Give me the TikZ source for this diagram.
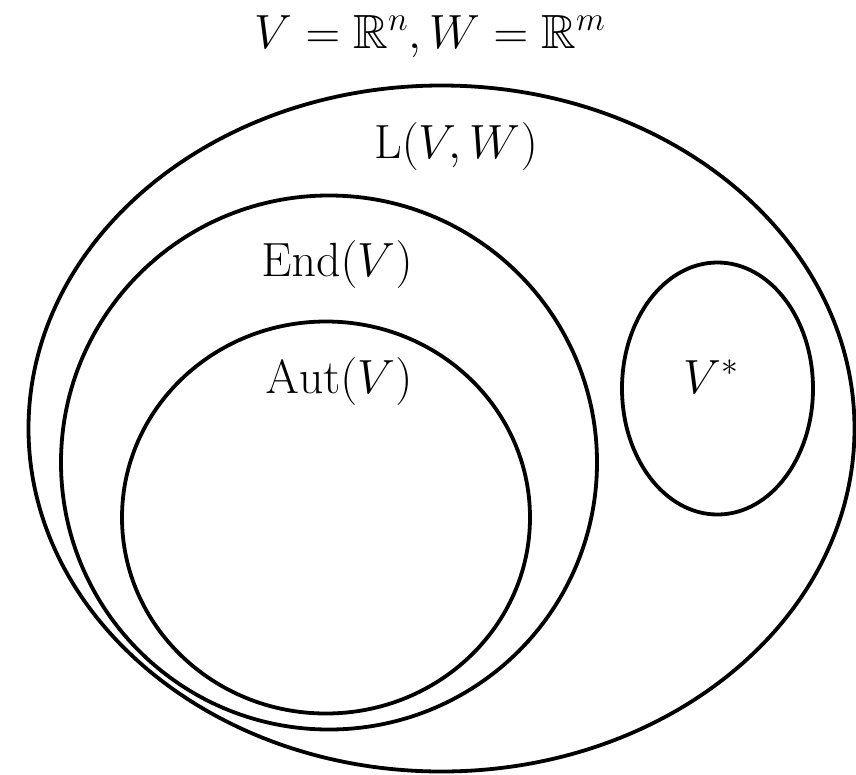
\RequirePackage{fix-cm}
\documentclass[tikz,border=0pt]{standalone}
\usepackage{amssymb}
\begin{document}
\begin{tikzpicture}[x=1pt,y=-1pt,
  setline/.style={line width=3.8pt, black},
  lbl/.style={anchor=base, inner sep=0pt, font=\fontsize{48}{58}\selectfont}]
\useasboundingbox (0,0) rectangle (856,774);
\draw[setline] (441.5,428.5) ellipse [x radius=413, y radius=343];
\draw[setline] (329,462.5) ellipse [x radius=268, y radius=267];
\draw[setline] (326,517.5) ellipse [x radius=204, y radius=196];
\draw[setline] (717.5,388.5) ellipse [x radius=95.5, y radius=126];
\node[lbl] (title) at (430,48) {$V=\mathbb{R}^n,W=\mathbb{R}^m$};
\node[lbl] (L) at (456,158) {$\mathrm{L}(V,W)$};
\node[lbl] (End) at (337,276) {$\mathrm{End}(V)$};
\node[lbl] (Aut) at (339,393) {$\mathrm{Aut}(V)$};
\node[lbl] (Vs) at (711,393) {$V^*$};
\end{tikzpicture}
\end{document}
